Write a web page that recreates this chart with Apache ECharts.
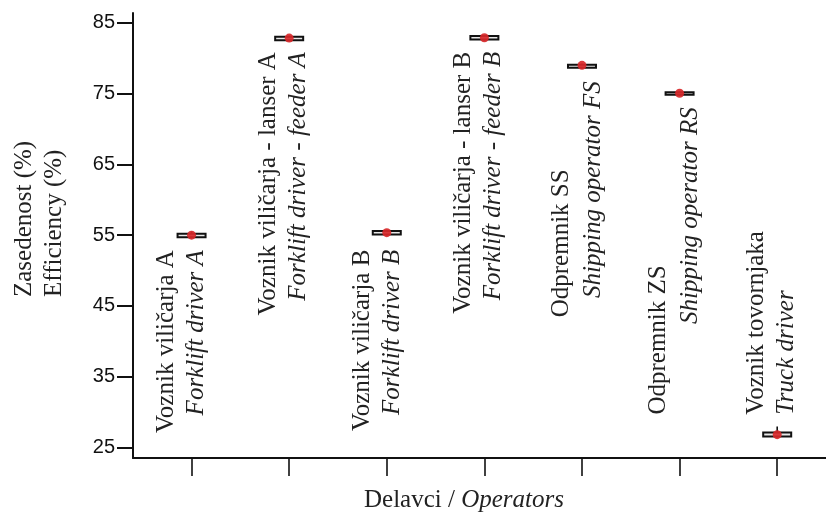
<!DOCTYPE html>
<html>
<head>
<meta charset="utf-8">
<script src="https://cdn.jsdelivr.net/npm/echarts@6/dist/echarts.min.js"></script>
<style>
  html, body { margin: 0; padding: 0; background: #fff; }
  #chart { width: 826px; height: 515px; }
</style>
</head>
<body>
<div id="chart"></div>
<script>
// Operator groups (Slovenian / English names)
const operatorsSl = [
  'Voznik viličarja A',
  'Voznik viličarja - lanser A',
  'Voznik viličarja B',
  'Voznik viličarja - lanser B',
  'Odpremnik SS',
  'Odpremnik ZS',
  'Voznik tovornjaka'
];
const operatorsEn = [
  'Forklift driver A',
  'Forklift driver - feeder A',
  'Forklift driver B',
  'Forklift driver - feeder B',
  'Shipping operator FS',
  'Shipping operator RS',
  'Truck driver'
];

// Efficiency distribution per operator (%)
const whiskerLow  = [54.55, 82.40, 54.95, 82.50, 78.50, 74.70, 26.40];
const quartile1   = [54.70, 82.55, 55.10, 82.65, 78.65, 74.85, 26.55];
const quartile3   = [55.20, 83.05, 55.60, 83.15, 79.10, 75.20, 27.10];
const whiskerHigh = [55.50, 83.20, 55.75, 83.30, 79.25, 75.35, 27.95];
const meanValues  = [55.00, 82.85, 55.35, 82.90, 79.00, 75.05, 26.80];

const yTicks = [25, 35, 45, 55, 65, 75, 85];

// Label placement around each box: pixel offsets from the box centre
// (dx per text line, dy per text line); 'below' hangs the text under the box.
const labelPlacement = [
  { side: 'below', dx: [-25, 5],  dy: [15, 15] },
  { side: 'below', dx: [-21, 9],  dy: [14, 14] },
  { side: 'below', dx: [-24, 6],  dy: [17, 17] },
  { side: 'below', dx: [-21, 9],  dy: [14, 14] },
  { side: 'below', dx: [-21, 11], dy: [104, 16] },
  { side: 'below', dx: [-21, 11], dy: [172, 14] },
  { side: 'above', dx: [-21, 9],  dy: [-20, -20] }
];

const positions = operatorsSl.map((_, i) => i + 1);
const boxData = positions.map((x, i) => [x, whiskerLow[i], quartile1[i], quartile3[i], whiskerHigh[i]]);
const meanData = positions.map((x, i) => [x, meanValues[i]]);
const labelData = positions.map((x, i) => [x, meanValues[i]]);

const serif = '"Liberation Serif", "Times New Roman", "DejaVu Serif", serif';
const sansNarrow = '"Liberation Sans Narrow", "Arial Narrow", "Liberation Sans", Arial, sans-serif';

const chart = echarts.init(document.getElementById('chart'), null, { renderer: 'canvas' });

chart.setOption({
  animation: false,
  backgroundColor: '#ffffff',
  grid: { left: 133, right: 0, top: 13, bottom: 57 },
  xAxis: {
    type: 'value',
    min: 0.4,
    max: 7.5,
    axisLine: { show: true, onZero: false, lineStyle: { color: '#111', width: 2 } },
    axisTick: { show: true, customValues: positions, length: 18, lineStyle: { color: '#111', width: 1.6 } },
    axisLabel: { show: false },
    splitLine: { show: false }
  },
  yAxis: {
    type: 'value',
    min: 23.5,
    max: 86.4,
    axisLine: { show: true, onZero: false, lineStyle: { color: '#111', width: 2 } },
    axisTick: { show: true, customValues: yTicks, length: 16, lineStyle: { color: '#111', width: 2 } },
    axisLabel: { customValues: yTicks, margin: 18, color: '#111', fontSize: 20, fontFamily: sansNarrow },
    splitLine: { show: false }
  },
  graphic: [
    {
      type: 'text', x: 24, y: 297, rotation: Math.PI / 2,
      style: { text: 'Zasedenost (%)', fontFamily: serif, fontSize: 25, fill: '#222', align: 'left', verticalAlign: 'middle' }
    },
    {
      type: 'text', x: 54, y: 297, rotation: Math.PI / 2,
      style: { text: 'Efficiency (%)', fontFamily: serif, fontSize: 25, fill: '#222', align: 'left', verticalAlign: 'middle' }
    },
    {
      type: 'text', x: 464, y: 500,
      style: {
        text: '{a|Delavci / }{b|Operators}',
        align: 'center', verticalAlign: 'middle',
        rich: {
          a: { fontFamily: serif, fontSize: 25, fill: '#222' },
          b: { fontFamily: serif, fontSize: 25, fontStyle: 'italic', fill: '#222' }
        }
      }
    }
  ],
  series: [
    {
      // Box and whiskers
      type: 'custom',
      coordinateSystem: 'cartesian2d',
      encode: { x: 0, y: [1, 2, 3, 4] },
      data: boxData,
      z: 2,
      renderItem: function (params, api) {
        const x = api.value(0);
        const low = api.coord([x, api.value(1)]);
        const q1p = api.coord([x, api.value(2)]);
        const q3p = api.coord([x, api.value(3)]);
        const high = api.coord([x, api.value(4)]);
        const halfW = 14;
        return {
          type: 'group',
          children: [
            {
              type: 'line',
              shape: { x1: low[0], y1: low[1], x2: high[0], y2: high[1] },
              style: { stroke: '#111', lineWidth: 1.6 }
            },
            {
              type: 'rect',
              shape: { x: q3p[0] - halfW, y: q3p[1], width: halfW * 2, height: q1p[1] - q3p[1] },
              style: { fill: '#e8e8e8', stroke: '#111', lineWidth: 2 }
            }
          ]
        };
      }
    },
    {
      // Mean markers
      type: 'scatter',
      data: meanData,
      symbol: 'circle',
      symbolSize: 9,
      z: 3,
      itemStyle: { color: '#d8282a', opacity: 0.92 }
    },
    {
      // Two-line operator names, written vertically next to each box
      type: 'custom',
      coordinateSystem: 'cartesian2d',
      data: labelData,
      z: 4,
      silent: true,
      renderItem: function (params, api) {
        const i = params.dataIndex;
        const c = api.coord([api.value(0), api.value(1)]);
        const place = labelPlacement[i];
        const align = place.side === 'below' ? 'right' : 'left';
        const lines = [
          { text: operatorsSl[i], italic: false },
          { text: operatorsEn[i], italic: true }
        ];
        return {
          type: 'group',
          children: lines.map((ln, k) => ({
            type: 'text',
            x: c[0] + place.dx[k],
            y: c[1] + place.dy[k],
            rotation: Math.PI / 2,
            style: {
              text: ln.text,
              x: 0, y: 0,
              align: align,
              verticalAlign: 'middle',
              fontFamily: serif,
              fontSize: 25,
              fontStyle: ln.italic ? 'italic' : 'normal',
              fill: '#222'
            }
          }))
        };
      }
    }
  ]
});
</script>
</body>
</html>
